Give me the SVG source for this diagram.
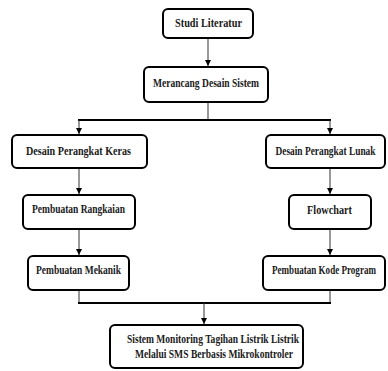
<svg xmlns="http://www.w3.org/2000/svg" width="388" height="371" viewBox="0 0 388 371">
<style>
.box{fill:#fff;stroke:#000;stroke-width:2}
.t{font-family:"Liberation Serif","Times New Roman",serif;font-weight:bold;font-size:12px;fill:#1a1a1a;text-anchor:middle}
.c{stroke:#333;stroke-width:1;fill:none}
.h{stroke:#000;stroke-width:2;fill:none}
</style>
<defs>
<marker id="ah" viewBox="0 0 6 6" refX="6" refY="3" markerWidth="6" markerHeight="6" markerUnits="userSpaceOnUse" orient="auto">
<path d="M0,0 L6,3 L0,6 z" fill="#000"/>
</marker>
</defs>
<g id="connectors">
<line class="c" x1="208" y1="38" x2="208" y2="66" marker-end="url(#ah)"/>
<line class="c" x1="208" y1="102" x2="208" y2="120"/>
<line class="h" x1="78" y1="120" x2="331" y2="120"/>
<line class="c" x1="79" y1="120" x2="79" y2="134" marker-end="url(#ah)"/>
<line class="c" x1="330" y1="120" x2="330" y2="134" marker-end="url(#ah)"/>
<line class="c" x1="79" y1="168" x2="79" y2="194" marker-end="url(#ah)"/>
<line class="c" x1="79" y1="229" x2="79" y2="255" marker-end="url(#ah)"/>
<line class="c" x1="330" y1="168" x2="330" y2="194" marker-end="url(#ah)"/>
<line class="c" x1="330" y1="229" x2="330" y2="255" marker-end="url(#ah)"/>
<line class="c" x1="79" y1="290" x2="79" y2="303"/>
<line class="c" x1="330" y1="290" x2="330" y2="303"/>
<line class="h" x1="78" y1="303" x2="331" y2="303"/>
<line class="c" x1="204" y1="303" x2="204" y2="324" marker-end="url(#ah)"/>
</g>
<g id="studi">
<rect class="box" x="163" y="9" width="90" height="29" rx="5"/>
<text class="t" transform="translate(208.5 27) scale(0.8 1)" textLength="83.75" lengthAdjust="spacingAndGlyphs">Studi Literatur</text>
</g>
<g id="merancang">
<rect class="box" x="144" y="67" width="124" height="35" rx="5"/>
<text class="t" transform="translate(206 87) scale(0.8 1)" textLength="132.5" lengthAdjust="spacingAndGlyphs">Merancang Desain Sistem</text>
</g>
<g id="keras">
<rect class="box" x="12" y="135" width="135" height="33" rx="5"/>
<text class="t" transform="translate(78.5 155) scale(0.8 1)" textLength="131.25" lengthAdjust="spacingAndGlyphs">Desain Perangkat Keras</text>
</g>
<g id="lunak">
<rect class="box" x="266" y="135" width="119" height="33" rx="5"/>
<text class="t" transform="translate(325.5 155) scale(0.8 1)" textLength="125" lengthAdjust="spacingAndGlyphs">Desain Perangkat Lunak</text>
</g>
<g id="rangkaian">
<rect class="box" x="23" y="195" width="112" height="34" rx="5"/>
<text class="t" transform="translate(78.5 213) scale(0.8 1)" textLength="116.25" lengthAdjust="spacingAndGlyphs">Pembuatan Rangkaian</text>
</g>
<g id="mekanik">
<rect class="box" x="28" y="256" width="101" height="34" rx="5"/>
<text class="t" transform="translate(78.5 274) scale(0.8 1)" textLength="106.25" lengthAdjust="spacingAndGlyphs">Pembuatan Mekanik</text>
</g>
<g id="flowchart">
<rect class="box" x="289" y="195" width="82" height="34" rx="5"/>
<text class="t" transform="translate(329.5 214) scale(0.8 1)" textLength="56.25" lengthAdjust="spacingAndGlyphs">Flowchart</text>
</g>
<g id="kode">
<rect class="box" x="263" y="256" width="122" height="34" rx="5"/>
<text class="t" transform="translate(324 274) scale(0.8 1)" textLength="130" lengthAdjust="spacingAndGlyphs">Pembuatan Kode Program</text>
</g>
<g id="sistem">
<rect class="box" x="110" y="325" width="193" height="43" rx="5"/>
<text class="t" transform="translate(213 343) scale(0.8 1)" textLength="215" lengthAdjust="spacingAndGlyphs">Sistem Monitoring Tagihan Listrik Listrik</text>
<text class="t" transform="translate(214 358) scale(0.8 1)" textLength="197.5" lengthAdjust="spacingAndGlyphs">Melalui SMS Berbasis Mikrokontroler</text>
</g>
</svg>
